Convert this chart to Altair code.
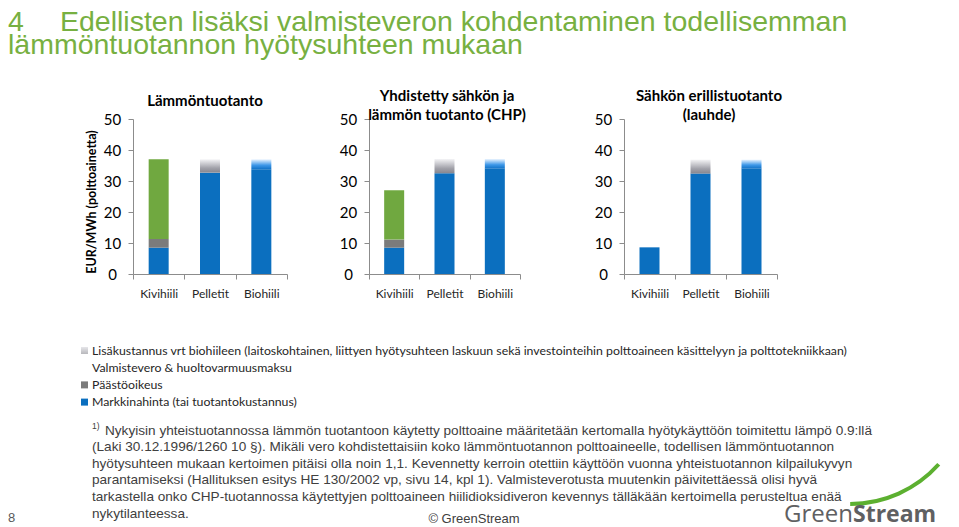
import altair as alt
import pandas as pd

# ---------------- data ----------------
categories = ["Kivihiili", "Pelletit", "Biohiili"]
panel_titles = [
    ["Lämmöntuotanto"],
    ["Yhdistetty sähkön ja", "lämmön tuotanto (CHP)"],
    ["Sähkön erillistuotanto", "(lauhde)"],
]
# per panel, per category (EUR/MWh polttoainetta)
markkinahinta = [[8.5, 32.7, 33.8], [8.5, 32.5, 34.0], [8.6, 32.4, 34.0]]
paastooikeus = [[2.8, 0, 0], [2.6, 0, 0], [0, 0, 0]]
valmistevero = [[25.7, 0, 0], [15.9, 0, 0], [0, 0, 0]]
lisakustannus = [[0, 4.3, 3.2], [0, 4.6, 3.1], [0, 4.5, 2.9]]

y_ticks = [0, 10, 20, 30, 40, 50]
y_title = "EUR/MWh (polttoainetta)"

legend_labels = [
    "Lisäkustannus vrt biohiileen (laitoskohtainen,  liittyen hyötysuhteen  laskuun sekä investointeihin polttoaineen käsittelyyn ja polttotekniikkaan)",
    "Valmistevero & huoltovarmuusmaksu",
    "Päästöoikeus",
    "Markkinahinta (tai tuotantokustannus)",
]
title_num = "4"
title_lines = [
    "Edellisten lisäksi valmisteveron kohdentaminen todellisemman",
    "lämmöntuotannon hyötysuhteen mukaan",
]
footnote_mark = "1)"
footnote_lines = [
    "Nykyisin yhteistuotannossa lämmön tuotantoon käytetty polttoaine määritetään kertomalla hyötykäyttöön toimitettu lämpö 0.9:llä",
    "(Laki 30.12.1996/1260 10 §). Mikäli vero kohdistettaisiin koko lämmöntuotannon polttoaineelle, todellisen lämmöntuotannon",
    "hyötysuhteen mukaan kertoimen pitäisi olla noin 1,1. Kevennetty kerroin otettiin käyttöön vuonna yhteistuotannon kilpailukyvyn",
    "parantamiseksi  (Hallituksen esitys HE 130/2002 vp, sivu 14, kpl 1). Valmisteverotusta muutenkin päivitettäessä olisi hyvä",
    "tarkastella onko CHP-tuotannossa käytettyjen polttoaineen hiilidioksidiveron kevennys tälläkään kertoimella perusteltua enää",
    "nykytilanteessa.",
]
page_no = "8"
copyright_text = "© GreenStream"
logo_parts = ["Green", "Stream"]

# ---------------- styles ----------------
BLUE = "#0b6fbf"
GRAY = "#7b7b7b"
GREEN = "#70a840"
TITLE_GREEN = "#77b041"
AXIS_COL = "#8c8c8c"
FONT = "Lato"
NARROW = "Liberation Sans"

GRAD_GRAY = alt.LinearGradient(
    gradient="linear", x1=0, x2=0, y1=1, y2=0,
    stops=[alt.GradientStop(color="#86868f", offset=0),
           alt.GradientStop(color="#a2a2aa", offset=0.35),
           alt.GradientStop(color="#f4f4f6", offset=1)])
GRAD_BLUE = alt.LinearGradient(
    gradient="linear", x1=0, x2=0, y1=1, y2=0,
    stops=[alt.GradientStop(color="#1172c6", offset=0),
           alt.GradientStop(color="#3d97e8", offset=0.4),
           alt.GradientStop(color="#eaf4ff", offset=1)])
GRAD_LEG = alt.LinearGradient(
    gradient="linear", x1=0, x2=0, y1=1, y2=0,
    stops=[alt.GradientStop(color="#b8b8bc", offset=0),
           alt.GradientStop(color="#e6e6ea", offset=1)])

one = pd.DataFrame({"a": [0]})
PH = 155  # plot height
BW = 20   # bar width


def panel(i, width, title_x, title_y):
    rows = []
    for j, c in enumerate(categories):
        base = 0.0
        for seg, vals in [("Markkinahinta", markkinahinta), ("Päästöoikeus", paastooikeus),
                          ("Valmistevero", valmistevero), ("Lisäkustannus", lisakustannus)]:
            v = vals[i][j]
            rows.append(dict(cat=c, seg=seg, y0=base, y1=base + v))
            base += v
    df = pd.DataFrame(rows)
    x = alt.X("cat:N", sort=categories,
              scale=alt.Scale(paddingInner=0, paddingOuter=0),
              axis=alt.Axis(title=None, tickBand="extent", labelAngle=0, labelFont=FONT,
                            labelFontSize=12, labelColor="#262626", labelPadding=9,
                            tickSize=5, domainColor=AXIS_COL, tickColor=AXIS_COL, grid=False))
    y = alt.Y("y0:Q", scale=alt.Scale(domain=[0, 50], nice=False),
              axis=alt.Axis(title=None, values=y_ticks, labelFont=FONT, labelFontSize=15,
                            labelColor="#000000", labelAlign="center", labelPadding=16,
                            tickSize=5, domainColor=AXIS_COL, tickColor=AXIS_COL, grid=False))
    base = alt.Chart(df).encode(x=x, y=y, y2=alt.Y2("y1:Q")).transform_filter(
        alt.datum.y1 > alt.datum.y0)
    layers = [
        base.transform_filter(alt.datum.seg == "Markkinahinta").mark_bar(width=BW, color=BLUE),
        base.transform_filter(alt.datum.seg == "Päästöoikeus").mark_bar(width=BW, color=GRAY),
        base.transform_filter(alt.datum.seg == "Valmistevero").mark_bar(width=BW, color=GREEN),
        base.transform_filter((alt.datum.seg == "Lisäkustannus") & (alt.datum.cat == "Pelletit"))
            .mark_bar(width=BW, color=GRAD_GRAY),
        base.transform_filter((alt.datum.seg == "Lisäkustannus") & (alt.datum.cat == "Biohiili"))
            .mark_bar(width=BW, color=GRAD_BLUE),
        alt.Chart(one).mark_text(text=panel_titles[i], font=FONT, fontSize=15, fontWeight="bold",
                                 align="center", baseline="alphabetic", lineHeight=19,
                                 color="#000000")
            .encode(x=alt.value(title_x), y=alt.value(title_y)),
    ]
    return alt.layer(*layers).properties(width=width, height=PH)


def spacer(w):
    return alt.Chart(one).mark_point(opacity=0).encode(
        x=alt.value(0), y=alt.value(0)).properties(width=w, height=PH)


# ---------------- decoration layer (origin = page (8,119)) ----------------
deco = []
deco.append(alt.Chart(one).mark_rect(opacity=0).encode(
    x=alt.value(0), x2=alt.value(943), y=alt.value(-111), y2=alt.value(400)))
deco.append(alt.Chart(one).mark_text(text=title_num, font=NARROW, fontSize=28.5, color=TITLE_GREEN,
                                     align="left", baseline="alphabetic")
            .encode(x=alt.value(0), y=alt.value(-88)))
deco.append(alt.Chart(one).mark_text(text=title_lines[0], font=NARROW, fontSize=28.5, color=TITLE_GREEN,
                                     align="left", baseline="alphabetic")
            .encode(x=alt.value(52), y=alt.value(-88)))
deco.append(alt.Chart(one).mark_text(text=title_lines[1], font=NARROW, fontSize=28.5, color=TITLE_GREEN,
                                     align="left", baseline="alphabetic")
            .encode(x=alt.value(0), y=alt.value(-65)))
deco.append(alt.Chart(one).mark_text(text=y_title, font=FONT, fontSize=12.5, fontWeight="bold",
                                     angle=270, align="center", baseline="middle", color="#000000")
            .encode(x=alt.value(84), y=alt.value(83)))
# legend
swatch_fills = [GRAD_LEG, None, GRAY, BLUE]
for k, lab in enumerate(legend_labels):
    cy = 231.5 + k * 17.2
    if swatch_fills[k] is not None:
        deco.append(alt.Chart(one).mark_rect(color=swatch_fills[k]).encode(
            x=alt.value(73), x2=alt.value(80), y=alt.value(cy - 3.5), y2=alt.value(cy + 3.5)))
    deco.append(alt.Chart(one).mark_text(text=lab, font=FONT, fontSize=12.3, color="#262626",
                                         align="left", baseline="middle")
                .encode(x=alt.value(84), y=alt.value(cy)))
# footnote
deco.append(alt.Chart(one).mark_text(text=footnote_mark, font=NARROW, fontSize=8.5, color="#404040",
                                     align="left", baseline="alphabetic")
            .encode(x=alt.value(84), y=alt.value(310)))
for k, line in enumerate(footnote_lines):
    deco.append(alt.Chart(one).mark_text(text=line, font=NARROW, fontSize=13.6, color="#404040",
                                         align="left", baseline="alphabetic")
                .encode(x=alt.value(97 if k == 0 else 84), y=alt.value(315.5 + k * 16.6)))
deco.append(alt.Chart(one).mark_text(text=page_no, font=NARROW, fontSize=13, color="#595959",
                                     align="left", baseline="alphabetic")
            .encode(x=alt.value(0), y=alt.value(403)))
deco.append(alt.Chart(one).mark_text(text=copyright_text, font=NARROW, fontSize=13,
                                     color="#404040", align="center", baseline="alphabetic")
            .encode(x=alt.value(466), y=alt.value(404)))
deco.append(alt.Chart(one).mark_arc(theta=2.3, theta2=3.14, innerRadius=117, outerRadius=121,
                                    color="#5cb030")
            .encode(x=alt.value(842), y=alt.value(266)))
deco.append(alt.Chart(one).mark_text(text=logo_parts[0], font="Open Sans", fontSize=24,
                                     color="#5f6062", align="right", baseline="alphabetic")
            .encode(x=alt.value(845), y=alt.value(403)))
deco.append(alt.Chart(one).mark_text(text=logo_parts[1], font="Open Sans", fontSize=23,
                                     fontWeight="bold", color="#5f6062", align="left",
                                     baseline="alphabetic")
            .encode(x=alt.value(845), y=alt.value(403)))

sp0 = alt.layer(*deco).properties(width=125, height=PH)

p1 = panel(0, 154, 72, -13)
p2 = panel(1, 151, 78, -18)
p3 = panel(2, 153, 85, -18)

chart = alt.hconcat(sp0, p1, spacer(82), p2, spacer(104), p3, spacing=0, bounds="flush") \
    .properties(padding=0) \
    .configure_view(stroke=None)

chart.save("out.html", embed_options={"renderer": "svg", "actions": False})
